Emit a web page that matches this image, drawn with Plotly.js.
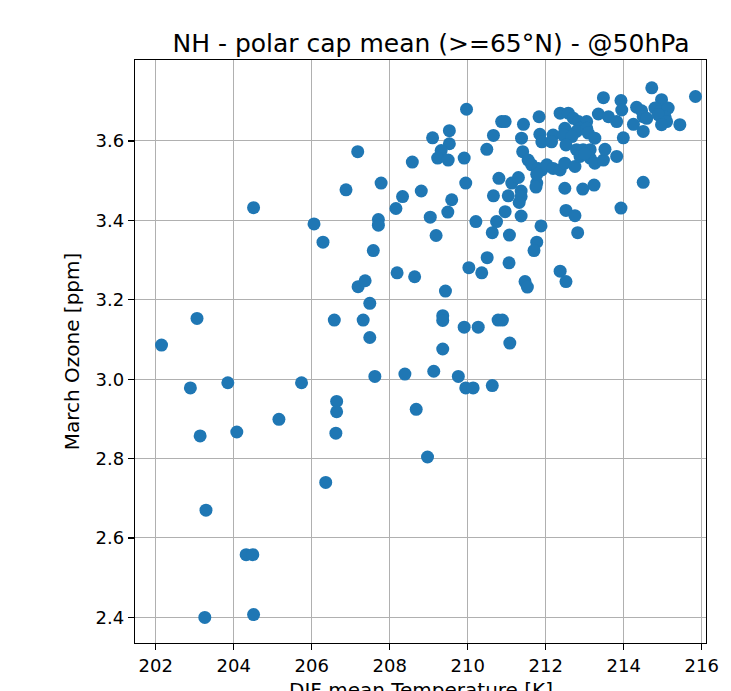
<!DOCTYPE html>
<html>
<head>
<meta charset="utf-8">
<script src="https://cdn.plot.ly/plotly-3.0.1.min.js"></script>
<style>html,body{margin:0;padding:0;background:#fff;}#chart{width:731px;height:691px;}</style>
</head>
<body>
<div id="chart"></div>
<script>
const temperature = [
202.15,203.06,202.89,203.14,203.85,204.08,203.29,203.26,204.32,204.49,
204.51,204.51,205.16,205.74,206.36,206.06,206.29,206.58,206.64,206.64,
206.62,206.88,207.18,207.19,207.37,207.32,207.49,207.49,207.58,207.62,
207.78,207.71,207.71,208.16,208.33,208.19,208.64,208.39,208.68,208.97,
208.81,208.58,209.04,209.13,209.19,209.10,209.53,209.53,209.32,209.23,
209.50,209.91,209.95,209.59,209.49,209.36,209.36,209.36,209.43,209.76,
209.95,210.14,210.63,210.03,210.36,210.50,209.91,210.27,210.78,210.89,
211.08,209.97,210.21,210.66,210.49,210.80,210.66,210.74,210.63,210.96,
211.04,211.07,211.06,211.37,211.37,211.32,211.37,211.13,211.30,211.88,
211.77,211.70,211.47,211.53,212.37,212.52,212.52,212.75,212.82,213.93,
214.50,212.49,212.95,213.24,211.77,211.75,210.87,210.96,211.43,211.83,
211.38,211.85,211.90,212.19,212.15,212.37,212.58,212.49,212.45,212.71,
212.84,213.05,212.88,212.79,213.05,213.09,212.67,212.52,211.41,211.55,
211.64,211.81,211.90,211.77,212.03,212.19,212.37,212.49,212.75,213.26,
212.79,212.96,213.14,212.88,213.14,213.26,213.48,213.52,213.82,213.00,
214.72,215.84,213.48,214.97,213.93,213.95,214.33,214.46,214.80,214.93,
215.14,215.06,214.89,215.10,214.97,215.44,214.50,214.59,214.25,214.50,
213.35,213.61,213.82,213.99
];
const ozone = [
3.086,3.153,2.978,2.857,2.991,2.867,2.670,2.400,2.558,2.558,
2.407,3.432,2.899,2.991,2.740,3.391,3.345,3.149,2.944,2.918,
2.864,3.477,3.573,3.233,3.248,3.149,3.191,3.105,3.324,3.007,
3.494,3.402,3.388,3.430,3.460,3.268,3.258,3.013,2.924,2.804,
3.474,3.547,3.408,3.020,3.362,3.608,3.626,3.593,3.576,3.557,
3.552,3.557,3.494,3.452,3.421,3.160,3.148,3.076,3.222,3.007,
2.978,2.978,2.984,3.281,3.268,3.306,3.131,3.131,3.149,3.149,
3.091,3.680,3.397,3.614,3.579,3.506,3.462,3.397,3.369,3.422,
3.462,3.363,3.293,3.474,3.460,3.445,3.411,3.494,3.508,3.386,
3.345,3.324,3.246,3.232,3.272,3.246,3.425,3.412,3.369,3.431,
3.496,3.481,3.479,3.489,3.494,3.484,3.649,3.649,3.642,3.661,
3.607,3.617,3.598,3.615,3.598,3.670,3.670,3.632,3.615,3.657,
3.649,3.649,3.632,3.624,3.632,3.620,3.611,3.590,3.573,3.552,
3.540,3.531,3.527,3.516,3.540,3.531,3.527,3.544,3.536,3.607,
3.578,3.578,3.578,3.561,3.557,3.544,3.552,3.579,3.561,3.568,
3.734,3.712,3.709,3.704,3.702,3.678,3.685,3.676,3.683,3.674,
3.683,3.661,3.666,3.649,3.641,3.641,3.661,3.657,3.642,3.624,
3.668,3.661,3.649,3.608
];
const xTicks = [202,204,206,208,210,212,214,216];
const yTicks = [2.4,2.6,2.8,3.0,3.2,3.4,3.6];
const titleText = "NH - polar cap mean (>=65°N) - @50hPa";
const xLabel = "DJF mean Temperature [K]";
const yLabel = "March Ozone [ppm]";

const font = "DejaVu Sans, sans-serif";
const trace = {
  type: "scatter", mode: "markers",
  x: temperature, y: ozone,
  marker: {color: "#1f77b4", size: 13, line: {width: 0}},
  hoverinfo: "x+y"
};
const axisCommon = {
  showline: true, linecolor: "#000", linewidth: 1.2, mirror: true,
  ticks: "outside", ticklen: 6, tickwidth: 1.2, tickcolor: "#000",
  showgrid: true, gridcolor: "#b0b0b0", gridwidth: 1,
  zeroline: false, automargin: false,
  tickfont: {family: font, size: 18, color: "#000"}
};
const layout = {
  width: 731, height: 691,
  margin: {l: 135, r: 25, t: 60, b: 48},
  paper_bgcolor: "#fff", plot_bgcolor: "#fff",
  showlegend: false,
  title: {text: titleText, font: {family: font, size: 25, color: "#000"},
          x: 431/731, xref: "container", xanchor: "center",
          y: 1 - 43/691, yref: "container", yanchor: "middle"},
  xaxis: Object.assign({}, axisCommon, {
    range: [201.47, 216.11], tickvals: xTicks, ticktext: xTicks.map(String)
  }),
  yaxis: Object.assign({}, axisCommon, {
    range: [2.3355, 3.804], tickvals: yTicks, ticktext: yTicks.map(v => v.toFixed(1)),
    title: {text: yLabel, font: {family: font, size: 20, color: "#000"}, standoff: 10}
  }),
  annotations: [{
    text: xLabel, xref: "paper", yref: "paper", x: 0.5, y: 0,
    xanchor: "center", yanchor: "top", yshift: -33, showarrow: false,
    font: {family: font, size: 20, color: "#000"}
  }]
};
Plotly.newPlot("chart", [trace], layout, {displayModeBar: false, staticPlot: true});
</script>
</body>
</html>
